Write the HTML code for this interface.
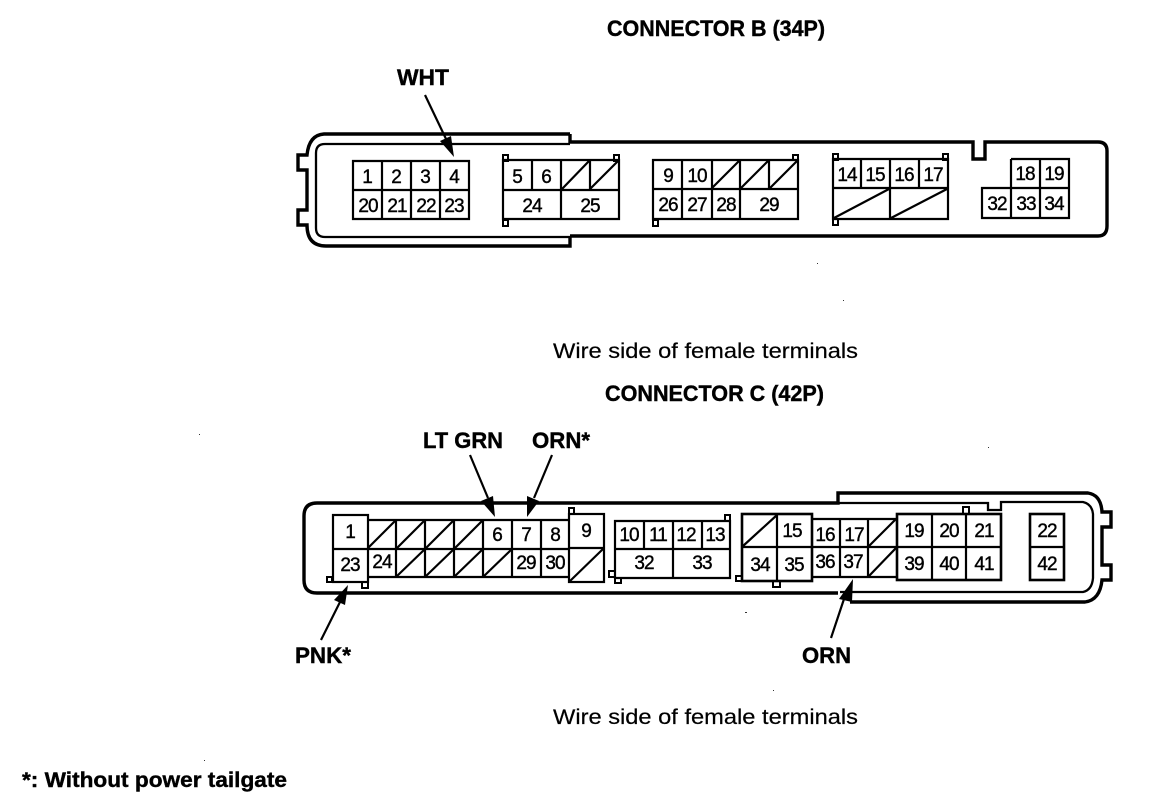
<!DOCTYPE html>
<html>
<head>
<meta charset="utf-8">
<style>
html,body{margin:0;padding:0;background:#fff;width:1152px;height:808px;overflow:hidden}
svg{display:block}
text{font-family:"Liberation Sans",sans-serif;fill:#000}
.n{font-size:19px;text-anchor:middle;stroke:#000;stroke-width:.4;letter-spacing:-1px}
.b{font-size:22px;font-weight:bold;stroke:#000;stroke-width:.4}
.w{font-size:21px;stroke:#000;stroke-width:.2}
.o{fill:none;stroke:#000;stroke-width:3.4}
.i{fill:none;stroke:#000;stroke-width:2.3}
.g{fill:none;stroke:#000;stroke-width:2.2}
.t{fill:#fff;stroke:#000;stroke-width:2}
.a{stroke:#000;stroke-width:2.2;fill:none}
</style>
</head>
<body>
<svg width="1152" height="808" viewBox="0 0 1152 808" xmlns="http://www.w3.org/2000/svg">
<!-- Titles -->
<text class="b" x="607" y="36" textLength="218" lengthAdjust="spacingAndGlyphs">CONNECTOR B (34P)</text>
<text class="b" x="397" y="85" textLength="52" lengthAdjust="spacingAndGlyphs">WHT</text>
<text class="w" x="553" y="358" textLength="305" lengthAdjust="spacingAndGlyphs">Wire side of female terminals</text>
<text class="b" x="605" y="401" textLength="219" lengthAdjust="spacingAndGlyphs">CONNECTOR C (42P)</text>
<text class="b" x="423" y="448" textLength="80" lengthAdjust="spacingAndGlyphs">LT GRN</text>
<text class="b" x="532" y="448" textLength="58" lengthAdjust="spacingAndGlyphs">ORN*</text>
<text class="b" x="295" y="663" textLength="56" lengthAdjust="spacingAndGlyphs">PNK*</text>
<text class="b" x="802" y="663" textLength="49" lengthAdjust="spacingAndGlyphs">ORN</text>
<text class="w" x="553" y="724" textLength="305" lengthAdjust="spacingAndGlyphs">Wire side of female terminals</text>
<text class="b" x="22" y="787" textLength="265" lengthAdjust="spacingAndGlyphs" style="font-size:21px">*: Without power tailgate</text>

<!-- Connector B housing -->
<path class="o" d="M570 134H324Q309 135 307 155H298V170H307V210H298V225H307Q307 246 326 246H570V236"/>
<path class="o" d="M570 134V142H973V159H985V142H1098Q1107 142 1107 151V226Q1107 236 1098 236H570"/>
<path class="i" d="M570 144H325Q316 144 316 153V228Q316 237 325 237H570"/>

<!-- Group 1 -->
<path class="g" d="M353 161H469V219H353ZM353 190H469M382 161V219M411 161V219M440 161V219"/>
<!-- Group 2 -->
<path class="t" d="M503 155h5v6h-5zM614 155h5v6h-5zM503 220h5v6h-5z"/>
<path class="g" d="M503 160H619V219H503ZM503 190H619M532 160V190M561 160V219M590 160V190M562 189L590 160M590 189L619 160"/>
<!-- Group 3 -->
<path class="t" d="M793 155h5v5h-5zM653 220h5v6h-5z"/>
<path class="g" d="M653 160H798V219H653ZM653 189H798M682 160V219M712 160V219M740 160V219M769 160V189M712 188L740 160M741 188L769 160M770 188L798 160"/>
<!-- Group 4 -->
<path class="t" d="M833 154h5v6h-5zM943 154h5v6h-5zM833 219h5v6h-5z"/>
<path class="g" d="M833 159H948V219H833ZM833 188H948M861 159V188M890 159V219M919 159V188M834 218L889 189M891 218L947 189"/>
<!-- Group 5 -->
<path class="g" d="M1011 159H1069V218H982V188H1069M1011 159V218M1040 159V218"/>

<g>
<text class="n" x="367" y="183">1</text><text class="n" x="396" y="183">2</text><text class="n" x="425" y="183">3</text><text class="n" x="454" y="183">4</text>
<text class="n" x="368" y="212">20</text><text class="n" x="397" y="212">21</text><text class="n" x="426" y="212">22</text><text class="n" x="454" y="212">23</text>
<text class="n" x="517" y="183">5</text><text class="n" x="546" y="183">6</text>
<text class="n" x="532" y="212">24</text><text class="n" x="590" y="212">25</text>
<text class="n" x="668" y="182">9</text><text class="n" x="697" y="182">10</text>
<text class="n" x="668" y="211">26</text><text class="n" x="697" y="211">27</text><text class="n" x="726" y="211">28</text><text class="n" x="769" y="211">29</text>
<text class="n" x="847" y="181">14</text><text class="n" x="875" y="181">15</text><text class="n" x="904" y="181">16</text><text class="n" x="933" y="181">17</text>
<text class="n" x="1025" y="180">18</text><text class="n" x="1054" y="180">19</text>
<text class="n" x="997" y="210">32</text><text class="n" x="1026" y="210">33</text><text class="n" x="1054" y="210">34</text>
</g>

<!-- Connector C housing -->
<path class="o" d="M838 593H317Q304 593 304 580V516Q304 503 317 503H838V493H1088Q1101 495 1102 512H1111V527H1102V565H1111V580H1102Q1100 600 1085 602H850"/>
<path class="i" d="M838 503H988V510H1001V502H1083Q1092 504 1093 514V578Q1092 590 1083 592H840"/>

<!-- C group: 1/23 -->
<path class="t" d="M327 577h5v5h-5zM362 582h6v6h-6z"/>
<rect x="333" y="515" width="35" height="67" fill="#fff" stroke="#000" stroke-width="2.2"/>
<path class="g" d="M333 549H368"/>
<!-- strip -->
<path class="g" d="M368 520H569M368 549H569M368 577H569M396 520V577M425 520V577M454 520V577M483 520V577M512 520V577M541 520V577"/>
<path class="g" d="M368 548L396 520M397 548L425 520M426 548L454 520M455 548L483 520M397 576L425 549M426 576L454 549M455 576L483 549M484 576L512 549"/>
<!-- box 9 -->
<path class="t" d="M569 508h5v6h-5z"/>
<rect x="569" y="514" width="35" height="68" fill="#fff" stroke="#000" stroke-width="2.2"/>
<path class="g" d="M569 548H604M570 581L603 549"/>
<!-- 10-13 -->
<path class="t" d="M609 571h6v6h-6zM615 578h6v5h-6zM725 515h5v6h-5z"/>
<path class="g" d="M615 521H730V578H615ZM615 549H730M644 521V549M673 521V578M702 521V549"/>
<!-- box 34 -->
<path class="t" d="M736 576h6v5h-6zM773 581h7v6h-7z"/>
<rect x="742" y="514" width="70" height="67" fill="#fff" stroke="#000" stroke-width="2.6"/>
<path class="g" d="M742 547H812M777 514V581M743 546L777 515"/>
<!-- strip 16.. -->
<path class="g" d="M812 519H897M812 547H897M812 577H897M840 519V577M868 519V577M869 546L896 519M869 576L896 548"/>
<!-- 19-41 -->
<path class="t" d="M963 507h6v7h-6z"/>
<rect x="897" y="514" width="104" height="66" fill="#fff" stroke="#000" stroke-width="2.6"/>
<path class="g" d="M897 547H1001M932 514V580M966 514V580"/>
<!-- 22/42 -->
<rect x="1030" y="514" width="34" height="66" fill="#fff" stroke="#000" stroke-width="2.6"/>
<path class="g" d="M1030 547H1064"/>

<g>
<text class="n" x="350" y="538">1</text><text class="n" x="350" y="571">23</text>
<text class="n" x="382" y="568">24</text>
<text class="n" x="497" y="541">6</text><text class="n" x="526" y="541">7</text><text class="n" x="555" y="541">8</text>
<text class="n" x="526" y="569">29</text><text class="n" x="555" y="569">30</text>
<text class="n" x="586" y="537">9</text>
<text class="n" x="629" y="541">10</text><text class="n" x="658" y="541">11</text><text class="n" x="686" y="541">12</text><text class="n" x="715" y="541">13</text>
<text class="n" x="644" y="569">32</text><text class="n" x="702" y="569">33</text>
<text class="n" x="792" y="537">15</text>
<text class="n" x="760" y="571">34</text><text class="n" x="794" y="571">35</text>
<text class="n" x="825" y="541">16</text><text class="n" x="854" y="541">17</text>
<text class="n" x="825" y="568">36</text><text class="n" x="853" y="568">37</text>
<text class="n" x="914" y="537">19</text><text class="n" x="949" y="537">20</text><text class="n" x="984" y="537">21</text>
<text class="n" x="914" y="570">39</text><text class="n" x="949" y="570">40</text><text class="n" x="984" y="570">41</text>
<text class="n" x="1047" y="537">22</text><text class="n" x="1047" y="570">42</text>
</g>

<!-- Arrows -->
<path class="a" d="M425 95L447 141"/><polygon points="454,157 440,141 451,136"/>
<path class="a" d="M470 455L488 498"/><polygon points="495,517 481,501 493,496"/>
<path class="a" d="M552 455L534 498"/><polygon points="527,517 527,496 539,501"/>
<path class="a" d="M321 640L340 602"/><polygon points="348,585 345,605 334,600"/>
<path class="a" d="M831 638L845 596"/><polygon points="853,579 852,602 839,599"/>

<!-- Specks -->
<g fill="#333">
<rect x="817" y="263" width="1" height="1"/><rect x="843" y="300" width="1" height="1"/>
<rect x="199" y="434" width="1" height="1"/><rect x="988" y="447" width="1" height="1"/>
<rect x="773" y="690" width="1" height="1"/><rect x="204" y="760" width="1" height="1"/>
<rect x="745" y="612" width="2" height="1"/>
</g>
</svg>
</body>
</html>
